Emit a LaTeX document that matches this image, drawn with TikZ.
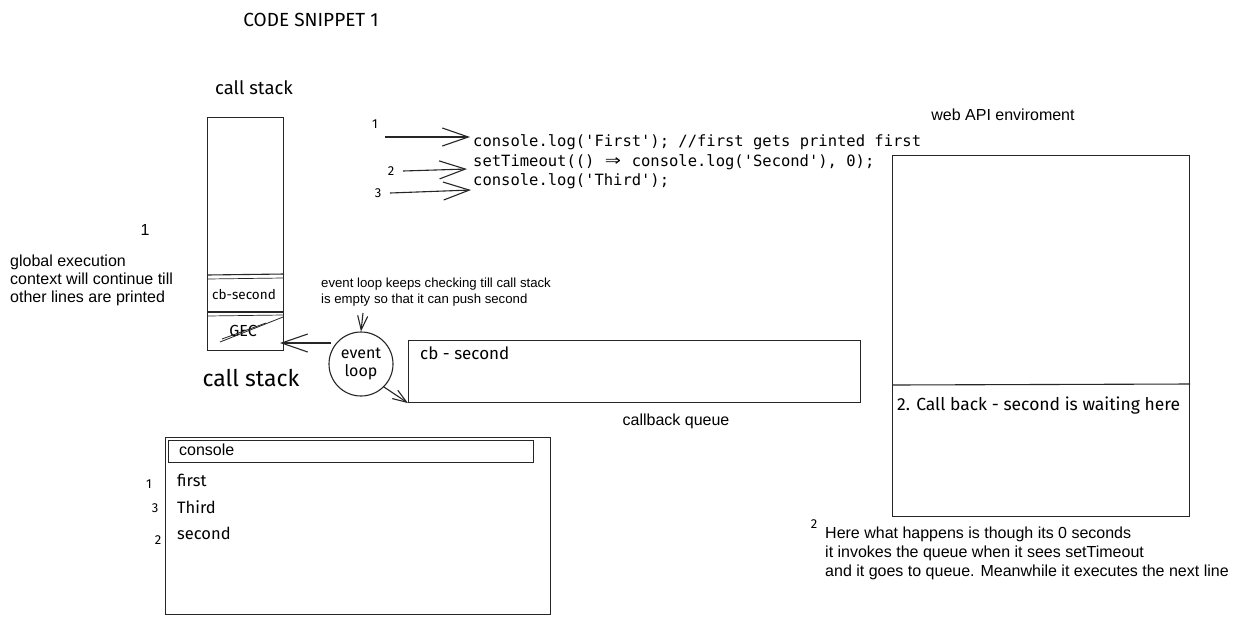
\documentclass[tikz,border=0pt]{standalone}
\usepackage{fontspec}
\setmainfont{Liberation Sans}
\newfontfamily\handfont{Fira Sans}
\newfontfamily\codefont{DejaVu Sans Mono}
\usetikzlibrary{arrows.meta}
\begin{document}
\begin{tikzpicture}[x=1pt,y=-1pt,
  ln/.style={draw=black!85, line width=1.1pt},
  box/.style={ln, rectangle, inner sep=0pt, anchor=north west},
  hand/.style={font=\handfont\fontsize{17}{20}\selectfont, inner sep=0pt},
  handnum/.style={font=\handfont\fontsize{13}{15}\selectfont, inner sep=0pt},
  arial/.style={font=\fontsize{16}{18}\selectfont, inner sep=0pt, align=left},
  arialsm/.style={font=\fontsize{13.2}{16}\selectfont, inner sep=0pt, align=left},
  code/.style={font=\codefont\fontsize{15.5}{20}\selectfont, inner sep=0pt, anchor=west},
  arr/.style={ln, -{Straight Barb[length=26pt,width=18pt,line width=1.1pt]}},
  sarr/.style={ln, -{Straight Barb[length=14pt,width=10pt,line width=1.1pt]}}
]
\useasboundingbox (0,0) rectangle (1238,625);
\fill[white] (0,0) rectangle (1238,625);

% title
\node[hand, font=\handfont\fontsize{19}{22}\selectfont] (title) at (311,20) {CODE SNIPPET 1};

% call stack
\node[hand, font=\handfont\fontsize{18.5}{22}\selectfont] (cslabel) at (254,88) {call stack};
\node[box, minimum width=76pt, minimum height=233pt] (stack) at (207,117) {};
\draw[ln] (207,275) -- (284,274);
\draw[ln, line width=0.7pt] (207,279) -- (283,278);
\draw[ln] (207,312) -- (284,312);
\draw[ln, line width=0.7pt] (207,316) -- (283,315);
\node[hand, font=\handfont\fontsize{13.5}{16}\selectfont] (cbsec) at (244,295) {cb-second};
\node[hand, font=\handfont\fontsize{16}{18}\selectfont] (gec) at (243,331) {GEC};
\draw[ln, line width=0.8pt] (220,342) -- (283,317);
\draw[ln, line width=0.8pt] (222,339) -- (266,323);
\node[hand, font=\handfont\fontsize{23}{26}\selectfont] (csbig) at (251,378) {call stack};

% note 1
\node[arial] (one) at (145,230) {1};
\node[arial, anchor=north west] (gectext) at (10,255) {global execution\\context will continue till\\other lines are printed};

% code
\node[handnum] (n1) at (375,124) {1};
\node[handnum] (n2) at (391,171) {2};
\node[handnum] (n3) at (378,193) {3};
\node[code] (c1) at (473,142) {console.log('First'); //first gets printed first};
\node[code] (c2) at (473,162) {setTimeout(() \makebox[1.2em]{\scalebox{1.7}[1.3]{⇒}} console.log('Second'), 0);};
\node[code] (c3) at (473,181) {console.log('Third');};
\coordinate (a1s) at (385,137);
\coordinate (a1e) at (470,137);
\coordinate (a2s) at (403,171);
\coordinate (a2e) at (467,169);
\coordinate (a3s) at (390,193);
\coordinate (a3e) at (471,190);
\draw[arr] (a1s) -- (a1e);
\draw[arr] (a2s) -- (a2e);
\draw[arr] (a3s) -- (a3e);

% event loop
\node[arialsm, anchor=north west] (evnote) at (321,278) {event loop keeps checking till call stack\\is empty so that it can push second};
\node[ln, circle, minimum size=64pt, inner sep=0pt, align=center, font=\handfont\fontsize{16}{18}\selectfont] (evloop) at (361,364) {event\\loop};
\draw[sarr] (363,313) -- (evloop.north);
\coordinate (gecin) at (280,343);
\draw[arr] (evloop.west |- gecin) ++(3,0) -- (gecin);

% callback queue
\node[box, minimum width=452pt, minimum height=62pt] (queue) at (408,340) {};
\node[hand, anchor=west] (cbq) at (420,353) {cb - second};
\node[arial] (cbqlabel) at (676,421) {callback queue};
\draw[sarr] (evloop.south east) -- (queue.south west);

% web API
\node[arial] (weblabel) at (1003,115) {web API enviroment};
\node[box, minimum width=297pt, minimum height=361pt] (web) at (892,155) {};
\draw[ln] (892,385) -- (1190,384);
\node[hand, anchor=west, font=\handfont\fontsize{17.5}{20}\selectfont] (waiting) at (897,406) {2. Call back - second is waiting here};
\node[handnum] (n2b) at (814,524) {2};
\node[arial, anchor=north west, font=\fontsize{16}{19}\selectfont] (webnote) at (825,527) {Here what happens is though its 0 seconds\\it invokes the queue when it sees setTimeout\\and it goes to queue. Meanwhile it executes the next line};

% console
\node[box, minimum width=385pt, minimum height=177pt] (console) at (165,437) {};
\node[box, minimum width=365pt, minimum height=22pt] (cbar) at (168,440) {};
\node[arial, anchor=west] (ctitle) at (179,450) {console};
\node[hand, anchor=west, font=\handfont\fontsize{16.5}{20}\selectfont] (o1) at (177,480) {first};
\node[hand, anchor=west, font=\handfont\fontsize{16.5}{20}\selectfont] (o3) at (177,507) {Third};
\node[hand, anchor=west, font=\handfont\fontsize{16.5}{20}\selectfont] (o2) at (177,533) {second};
\node[handnum] (k1) at (149,484) {1};
\node[handnum] (k3) at (155,508) {3};
\node[handnum] (k2) at (158,540) {2};
\end{tikzpicture}
\end{document}
